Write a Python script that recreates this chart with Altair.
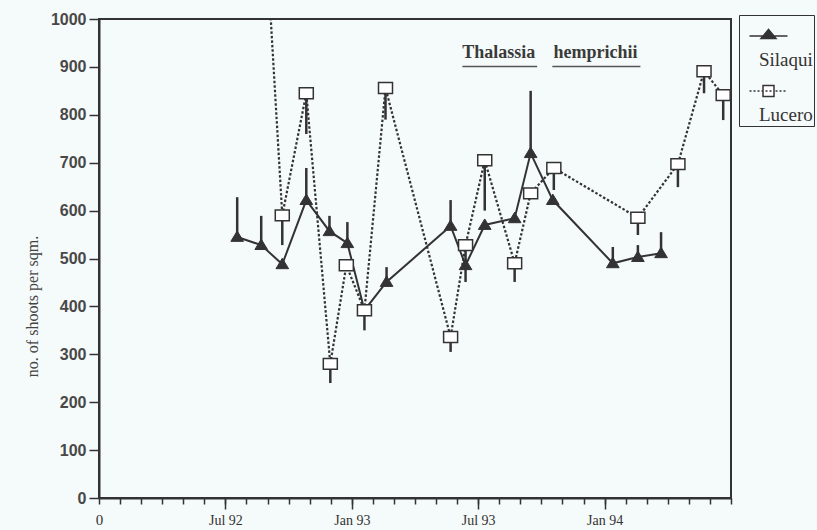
import altair as alt
import pandas as pd

# ---------------- data (x = months since 1 Jan 1992) ----------------
SERIES = ["Silaqui", "Lucero"]

sil_month = [6.56, 7.70, 8.70, 9.84, 10.94, 11.79, 12.60, 13.65, 16.69, 17.40,
             18.31, 19.73, 20.49, 21.54, 24.39, 25.58, 26.68]
sil_value = [545, 528, 488, 622, 557, 532, 392, 451, 568, 486,
             570, 584, 720, 622, 490, 503, 511]
sil_err = [628, 589, None, 689, 589, 576, None, 482, 622, None,
           None, None, 850, None, 524, 528, 555]

luc_month = [7.70, 8.70, 9.84, 10.98, 11.74, 12.60, 13.60, 16.69, 17.40,
             18.31, 19.73, 20.49, 21.59, 25.58, 27.48, 28.72, 29.63]
luc_value = [1340, 590, 845, 280, 486, 392, 856, 336, 528,
             705, 490, 636, 689, 585, 697, 891, 841]
luc_err = [None, 528, 760, 240, None, 350, 790, 305, 451,
           600, 451, None, 643, 549, 649, 845, 789]

X_MINOR = list(range(0, 31))
X_MAJOR = [6, 12, 18, 24]
X_MAJOR_LABELS = ["Jul 92", "Jan 93", "Jul 93", "Jan 94"]
Y_TICKS = list(range(0, 1001, 100))

TITLE_WORDS = ["Thalassia", "hemprichii"]
TITLE_X = [18.98, 23.57]
TITLE_Y = [929, 929]
UL_X = [17.25, 21.52]
UL_X2 = [20.80, 25.70]
UL_Y = [901, 901]

# ---------------- tables ----------------
df = pd.concat([
    pd.DataFrame({"series": "Silaqui", "month": sil_month, "value": sil_value, "err": sil_err}),
    pd.DataFrame({"series": "Lucero", "month": luc_month, "value": luc_value, "err": luc_err}),
], ignore_index=True)
err_df = df.dropna(subset=["err"])
title_df = pd.DataFrame({"word": TITLE_WORDS, "x": TITLE_X, "y": TITLE_Y})
ul_df = pd.DataFrame({"x": UL_X, "x2": UL_X2, "y": UL_Y})

INK = "#333333"
BG = "#f5fafa"
SERIF = "Liberation Serif"
SANS = "Liberation Sans"

xscale = alt.Scale(domain=[0, 30], nice=False, zero=False)
yscale = alt.Scale(domain=[0, 1000], nice=False)

yaxis = alt.Axis(values=Y_TICKS, format="d", tickSize=10, labelPadding=3, labelFont=SANS,
                 labelFontSize=16, labelFontWeight="bold", labelColor="#484848", grid=False,
                 title="no. of shoots per sqm.", titleFont=SERIF, titleFontSize=16,
                 titleFontWeight="normal", titleColor="#444444",
                 titleX=-67, titleY=287, titleAngle=270, titleAlign="center",
                 titleBaseline="middle", domainColor=INK, domainWidth=2,
                 tickColor=INK, tickWidth=1.5)

minor_axis = alt.Axis(orient="bottom", values=X_MINOR, tickSize=6, tickWidth=1.5,
                      tickColor=INK, domainColor=INK, domainWidth=2, grid=False,
                      labelExpr="datum.value == 0 ? '0' : ''", labelFlush=False,
                      labelOverlap=False, labelPadding=8, labelFont=SERIF,
                      labelFontSize=15, labelColor=INK, title=None)

major_labels_js = "[" + ",".join("'%s'" % s for s in X_MAJOR_LABELS) + "]"
major_vals_js = "[" + ",".join(str(v) for v in X_MAJOR) + "]"
major_axis = alt.Axis(orient="bottom", values=X_MAJOR, tickSize=11, tickWidth=1.5,
                      tickColor=INK, domain=False, grid=False,
                      labelExpr=major_labels_js + "[indexof(" + major_vals_js + ", datum.value)]",
                      labelFlush=False, labelOverlap=False, labelPadding=4,
                      labelFont=SERIF, labelFontSize=14, labelColor=INK, title=None)


def X(axis=None):
    return alt.X("month:Q", scale=xscale, axis=axis)


def Y():
    return alt.Y("value:Q", scale=yscale, axis=yaxis)


base = alt.Chart(df)

sil_line = base.transform_filter(alt.datum.series == "Silaqui").mark_line(
    color=INK, strokeWidth=2, clip=True
).encode(x=X(minor_axis), y=Y(), order="month:Q")

luc_line = base.transform_filter(alt.datum.series == "Lucero").mark_line(
    color=INK, strokeWidth=2.2, strokeDash=[2.5, 2], clip=True
).encode(x=X(major_axis), y=Y(), order="month:Q")

err = alt.Chart(err_df).mark_rule(color=INK, strokeWidth=2.5, clip=True).encode(
    x=X(), y=Y(), y2="err:Q"
)

sil_pts = base.transform_filter(alt.datum.series == "Silaqui").mark_point(
    shape="M0,-0.95L1,0.7L-1,0.7Z", size=160, filled=True, fill=INK,
    stroke=INK, strokeWidth=1, opacity=1, clip=True
).encode(x=X(), y=Y())

luc_pts = base.transform_filter(alt.datum.series == "Lucero").mark_point(
    shape="M-1,-0.78H1V0.78H-1Z", size=196, filled=True, fill="#ffffff",
    stroke=INK, strokeWidth=1.5, opacity=1, clip=True
).encode(x=X(), y=Y())

title_txt = alt.Chart(title_df).mark_text(
    font=SERIF, fontSize=18, fontWeight="bold", color="#3a3a3a", baseline="middle"
).encode(x=alt.X("x:Q", scale=xscale, axis=None),
         y=alt.Y("y:Q", scale=yscale, axis=yaxis), text="word:N")

title_ul = alt.Chart(ul_df).mark_rule(color="#555555", strokeWidth=1.5).encode(
    x=alt.X("x:Q", scale=xscale, axis=None), x2="x2:Q",
    y=alt.Y("y:Q", scale=yscale, axis=yaxis)
)

# legend symbols: size 4 -> path units are pixels; symbol drawn above its label
SIL_SYMBOL = "M0,-14.5H38M11.5,-12L19,-21L26.5,-12Z"
LUC_SYMBOL = ("M0,-14.5h2M4,-14.5h2M8,-14.5h2M12,-14.5h1.5"
              "M26,-14.5h2M30,-14.5h2M34,-14.5h2"
              "M13.5,-20H24.5V-9H13.5Z"
              "M16,-14.5h2M20,-14.5h2")
leg = alt.Legend(orient="none", legendX=640, legendY=-4, title=" ",
                 titleFontSize=10, titlePadding=15, titleColor=BG,
                 padding=1, rowPadding=12, strokeColor=INK,
                 fillColor=BG, symbolSize=4, symbolStrokeColor=INK,
                 symbolStrokeWidth=1.5, symbolOpacity=1, labelOffset=0,
                 labelBaseline="top", labelFont=SERIF, labelFontSize=19,
                 labelColor="#333333", labelLimit=200)
lscale_shape = alt.Scale(domain=SERIES, range=[SIL_SYMBOL, LUC_SYMBOL])
legend_layer = alt.Chart(pd.DataFrame({"series": SERIES})).transform_filter("false").mark_point(
    filled=True, size=4, opacity=1, strokeWidth=1.5
).encode(
    shape=alt.Shape("series:N", scale=lscale_shape, legend=leg),
    fill=alt.Fill("series:N", scale=alt.Scale(domain=SERIES, range=[INK, "#ffffff"]),
                  legend=leg),
    stroke=alt.Stroke("series:N", scale=alt.Scale(domain=SERIES, range=[INK, "#343434"]),
                      legend=leg),
)

chart = alt.layer(
    sil_line, luc_line, err, sil_pts, luc_pts, title_ul, title_txt, legend_layer
).resolve_axis(x="independent").properties(
    width=632, height=479,
    autosize=alt.AutoSizeParams(type="none"),
    padding={"left": 99, "top": 19, "right": 86, "bottom": 32},
    background=BG,
).configure_view(stroke=INK, strokeWidth=2)

chart.save("out.html", embed_options={"renderer": "svg", "actions": False})
